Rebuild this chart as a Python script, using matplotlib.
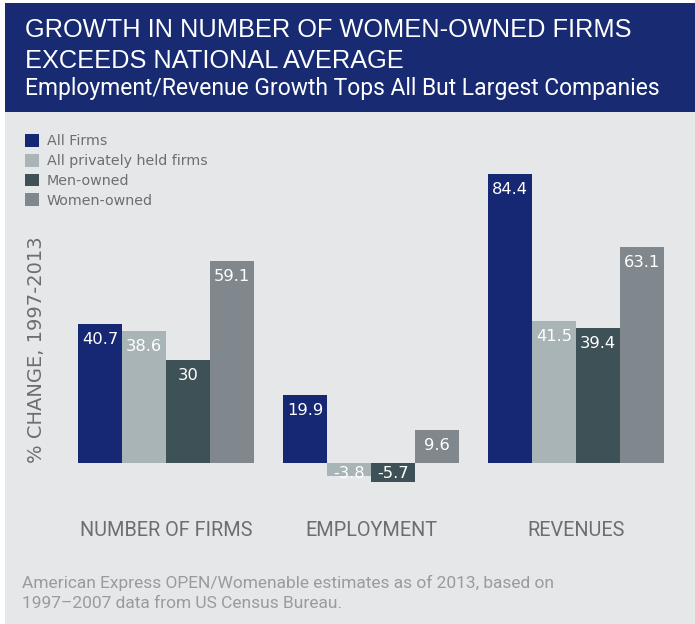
import matplotlib.pyplot as plt
import numpy as np
from matplotlib.patches import Rectangle

# data
categories = ['NUMBER OF FIRMS', 'EMPLOYMENT', 'REVENUES']
series = ['All Firms', 'All privately held firms', 'Men-owned', 'Women-owned']
all_firms = [40.7, 19.9, 84.4]
private_firms = [38.6, -3.8, 41.5]
men_owned = [30, -5.7, 39.4]
women_owned = [59.1, 9.6, 63.1]
colors = ['#162873', '#a8b4b5', '#3e5157', '#80888e']

W, H = 695, 624
BG = '#e6e7e9'
NAVY = '#172a72'
GRAY_TXT = '#6d6e71'


def fx(px):
    return px / W


def fy(py):
    return 1 - py / H


fig = plt.figure(figsize=(W / 100, H / 100), dpi=100, facecolor='white')

# background panel and header band
fig.patches.append(Rectangle((fx(5), 0), fx(690), fy(112), transform=fig.transFigure,
                             facecolor=BG, edgecolor='none', zorder=-2))
fig.patches.append(Rectangle((fx(5), fy(112)), fx(690), 109 / H, transform=fig.transFigure,
                             facecolor=NAVY, edgecolor='none', zorder=-2))

fig.text(fx(25), fy(30), 'GROWTH IN NUMBER OF WOMEN-OWNED FIRMS', color='white',
         fontsize=18.3, family='Liberation Sans', va='center', ha='left')
fig.text(fx(25), fy(61), 'EXCEEDS NATIONAL AVERAGE', color='white',
         fontsize=18.3, family='Liberation Sans', va='center', ha='left')
fig.text(fx(25), fy(89), 'Employment/Revenue Growth Tops All But Largest Companies',
         color='white', fontsize=16.5, family='Roboto', va='center', ha='left')

# axes: x=0 at 166px, 1 unit = 205px ; y=0 at 463px, ~3.4 px/unit
ax_l, ax_r, ax_t, ax_b = 60, 685, 170, 495
ax = fig.add_axes([fx(ax_l), fy(ax_b), fx(ax_r - ax_l), (ax_b - ax_t) / H])
ax.set_zorder(2)
ax.set_facecolor('none')
ax.set_xlim((ax_l - 166) / 205, (ax_r - 166) / 205)
ax.set_ylim(-(ax_b - 463) / 3.42, (463 - ax_t) / 3.42)

x = np.arange(len(categories))
bw = 0.215
vals = [all_firms, private_firms, men_owned, women_owned]
for i, (name, v, c) in enumerate(zip(series, vals, colors)):
    pos = x + (i - 1.5) * bw
    ax.bar(pos, v, width=bw, color=c, label=name, edgecolor='none')
    for xp, val in zip(pos, v):
        txt = f'{val:g}'
        if val >= 0:
            ax.annotate(txt, (xp, val), xytext=(0, -11), textcoords='offset points',
                        ha='center', va='center', color='white', fontsize=11.8,
                        family='DejaVu Sans')
        else:
            ax.annotate(txt, (xp, 0), xytext=(0, -7.5), textcoords='offset points',
                        ha='center', va='center', color='white', fontsize=11.8,
                        family='DejaVu Sans')

for s in ax.spines.values():
    s.set_visible(False)
ax.set_yticks([])
ax.set_xticks(x)
ax.set_xticklabels(categories, fontsize=14.3, color=GRAY_TXT, family='Roboto')
ax.tick_params(axis='x', length=0, pad=(528 - ax_b) * 0.72 - 5)

fig.text(fx(37), fy(350), '% CHANGE, 1997-2013', rotation=90, color=GRAY_TXT,
         fontsize=14, family='DejaVu Sans', va='center', ha='center')

fig.legend(loc='upper left', bbox_to_anchor=(fx(18), fy(127)), frameon=False,
           handlelength=1.0, handleheight=1.0, handletextpad=0.5,
           labelspacing=0.38, borderpad=0, labelcolor=GRAY_TXT,
           prop={'family': 'DejaVu Sans', 'size': 10.3})

fig.text(fx(22), fy(583), 'American Express OPEN/Womenable estimates as of 2013, based on',
         color='#9a9b9e', fontsize=12.5, family='Roboto', va='center', ha='left')
fig.text(fx(22), fy(603), '1997\u20132007 data from US Census Bureau.',
         color='#9a9b9e', fontsize=12.5, family='Roboto', va='center', ha='left')

fig.savefig('out.png', dpi=100, facecolor=fig.get_facecolor())
